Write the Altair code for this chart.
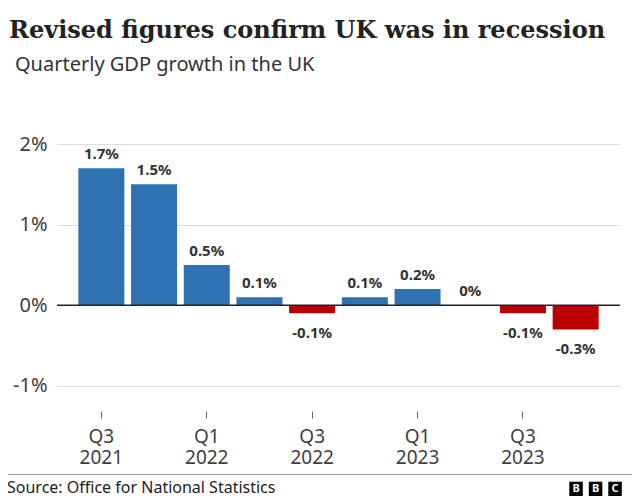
import altair as alt
import pandas as pd

quarters = ["Q3 2021", "Q4 2021", "Q1 2022", "Q2 2022", "Q3 2022",
            "Q4 2022", "Q1 2023", "Q2 2023", "Q3 2023", "Q4 2023"]
growth = [1.7, 1.5, 0.5, 0.1, -0.1, 0.1, 0.2, 0.0, -0.1, -0.3]
value_labels = ["1.7%", "1.5%", "0.5%", "0.1%", "-0.1%",
                "0.1%", "0.2%", "0%", "-0.1%", "-0.3%"]
tick_quarters = ["Q3 2021", "Q1 2022", "Q3 2022", "Q1 2023", "Q3 2023"]
y_ticks = [-1, 0, 1, 2]

title_text = "Revised figures confirm UK was in recession"
subtitle_text = "Quarterly GDP growth in the UK"
source_text = "Source: Office for National Statistics"
logo_letters = ["B", "B", "C"]

BLUE = "#2f72b4"
RED = "#bb0000"
SANS = "Noto Sans"

df = pd.DataFrame({"quarter": quarters, "growth": growth, "label": value_labels})
df["sign"] = ["neg" if g < 0 else "pos" for g in growth]

W, H = 563, 266

x = alt.X("quarter:N", sort=quarters,
          scale=alt.Scale(paddingInner=0.127, paddingOuter=0.405),
          axis=alt.Axis(values=tick_quarters, labelExpr="split(datum.label, ' ')",
                        labelAngle=0, domain=False, ticks=True, tickSize=7,
                        tickColor="#666666", tickWidth=1, offset=1,
                        labelFont=SANS, labelFontSize=19, labelColor="#404040",
                        labelPadding=9, labelLineHeight=21.5, title=None, grid=False))
y = alt.Y("growth:Q",
          scale=alt.Scale(domain=[-1.3, 2], nice=False),
          axis=alt.Axis(values=y_ticks, labelExpr="datum.value + '%'", grid=True,
                        gridColor="#dddddd", gridWidth=1, ticks=False, domain=False,
                        labelFont=SANS, labelFontSize=20, labelColor="#404040",
                        labelPadding=10, title=None))

base = alt.Chart(df)

bars = base.mark_bar().encode(
    x=x, y=y,
    color=alt.Color("sign:N", scale=alt.Scale(domain=["pos", "neg"], range=[BLUE, RED]),
                    legend=None),
)

zero = alt.Chart(pd.DataFrame({"z": [0]})).mark_rule(color="#222222", strokeWidth=1.5).encode(
    y=alt.Y("z:Q")
)

pos_text = base.transform_filter("datum.growth >= 0").mark_text(
    baseline="alphabetic", dy=-9, font=SANS, fontSize=15, fontWeight="bold", color="#333333"
).encode(x=alt.X("quarter:N", sort=quarters), y="growth:Q", text="label:N")

neg_text = base.transform_filter("datum.growth < 0").mark_text(
    baseline="alphabetic", dy=25, font=SANS, fontSize=15, fontWeight="bold", color="#333333"
).encode(x=alt.X("quarter:N", sort=quarters), y="growth:Q", text="label:N")


def label_layer(text, xv, yv, **kw):
    return alt.Chart(pd.DataFrame({"t": [text]})).mark_text(
        align="left", baseline="alphabetic", **kw
    ).encode(x=alt.value(xv), y=alt.value(yv), text="t:N")


title = label_layer(title_text, -48, -106, font="DejaVu Serif", fontSize=24,
                    fontWeight="bold", color="#222222")
subtitle = label_layer(subtitle_text, -42, -73, font=SANS, fontSize=20, color="#333333")
source = label_layer(source_text, -50, 349, font=SANS, fontSize=16, color="#222222")

sep = alt.Chart(pd.DataFrame({"a": [0]})).mark_rule(color="#999999", strokeWidth=1).encode(
    x=alt.value(-57), x2=alt.value(580), y=alt.value(330.5)
)

logo_layers = []
for i, letter in enumerate(logo_letters):
    x0 = 512.3 + i * 19.5
    logo_layers.append(
        alt.Chart(pd.DataFrame({"a": [0]})).mark_rect(color="#000000").encode(
            x=alt.value(x0), x2=alt.value(x0 + 13.5), y=alt.value(337.7), y2=alt.value(352)
        )
    )
    logo_layers.append(
        alt.Chart(pd.DataFrame({"t": [letter]})).mark_text(
            align="center", baseline="middle", font=SANS, fontSize=11, fontWeight="bold",
            color="#ffffff"
        ).encode(x=alt.value(x0 + 6.75), y=alt.value(345.3), text="t:N")
    )

chart = alt.layer(
    bars, zero, pos_text, neg_text, title, subtitle, source, sep, *logo_layers
).properties(
    width=W, height=H,
    autosize=alt.AutoSizeParams(type="none"),
    padding={"left": 49, "top": 136, "right": 12, "bottom": 90},
    background="#ffffff",
).configure_view(stroke=None)

chart.save("out.html", embed_options={"renderer": "svg", "actions": False})
